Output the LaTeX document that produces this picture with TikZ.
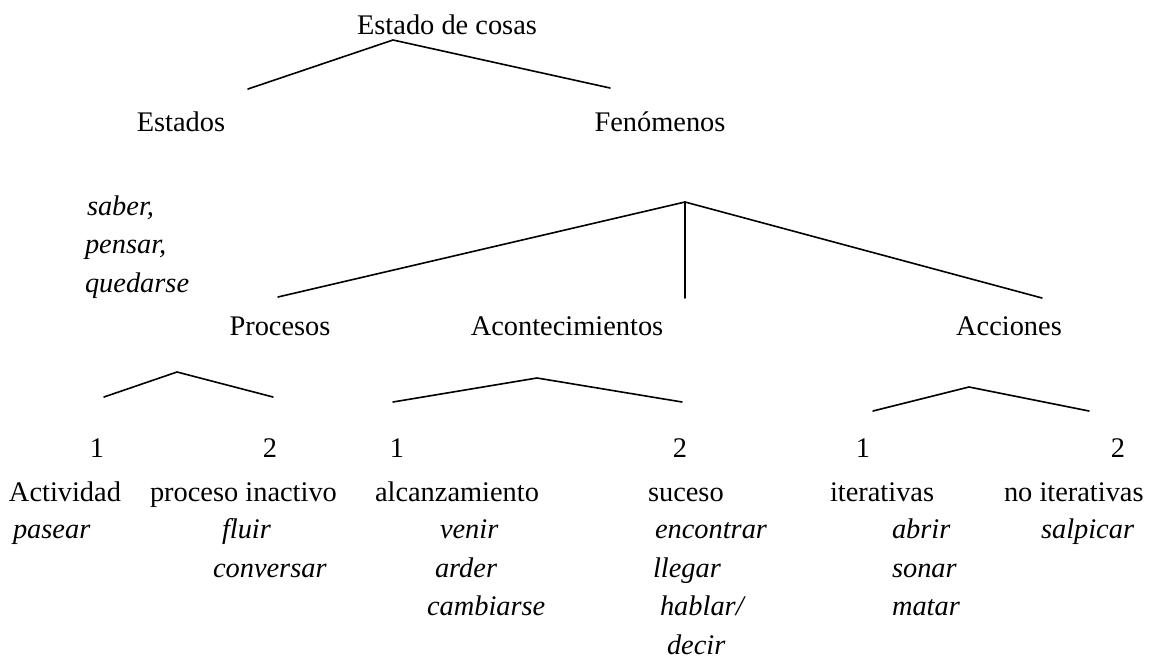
\documentclass[tikz,border=0pt]{standalone}
\usepackage{fontspec}
\setmainfont{Liberation Serif}
\begin{document}
\begin{tikzpicture}[x=1pt,y=-1pt,
  every node/.style={inner sep=0pt,outer sep=0pt,font=\fontsize{28.4}{34}\selectfont},
  lbl/.style={anchor=base},
  lblw/.style={anchor=base west},
  ex/.style={anchor=base west,font=\fontsize{28.4}{34}\selectfont\itshape},
  branch/.style={line width=1.6pt,line cap=round,line join=miter}]
\useasboundingbox (0,0) rectangle (1154,658);
% level 0/1
\node[lbl] (root) at (447,35) {Estado de cosas};
\node[lbl] (estados) at (181,132) {Estados};
\node[lbl] (fen) at (660,132) {Fenómenos};
\node[ex] (saber) at (87,215) {saber,};
\node[ex] (pensar) at (85,253) {pensar,};
\node[ex] (quedarse) at (85,292) {quedarse};
% level 2
\node[lbl] (proc) at (280,335) {Procesos};
\node[lbl] (acont) at (567,335) {Acontecimientos};
\node[lbl] (acc) at (1009,335) {Acciones};
% numbers
\node[lbl] (n1) at (97,457) {1};
\node[lbl] (n2) at (270,457) {2};
\node[lbl] (n3) at (397,457) {1};
\node[lbl] (n4) at (680,457) {2};
\node[lbl] (n5) at (863,457) {1};
\node[lbl] (n6) at (1118,457) {2};
% labels
\node[lblw] (act) at (9,501) {Actividad};
\node[lblw] (pin) at (150,501) {proceso inactivo};
\node[lblw] (alc) at (375,501) {alcanzamiento};
\node[lblw] (suc) at (648,501) {suceso};
\node[lblw] (ite) at (830,501) {iterativas};
\node[lblw] (nit) at (1004,501) {no iterativas};
% examples
\node[ex] (pasear) at (13,538) {pasear};
\node[ex] (fluir) at (222,538) {fluir};
\node[ex] (conversar) at (213,577) {conversar};
\node[ex] (venir) at (440,538) {venir};
\node[ex] (arder) at (435,577) {arder};
\node[ex] (cambiarse) at (427,615) {cambiarse};
\node[ex] (encontrar) at (655,538) {encontrar};
\node[ex] (llegar) at (653,577) {llegar};
\node[ex] (hablar) at (660,615) {hablar/};
\node[ex] (decir) at (667,654) {decir};
\node[ex] (abrir) at (892,538) {abrir};
\node[ex] (sonar) at (892,577) {sonar};
\node[ex] (matar) at (892,615) {matar};
\node[ex] (salpicar) at (1041,538) {salpicar};
% branch coordinates
\coordinate (a1) at (393,40);
\coordinate (a1l) at (248,89);
\coordinate (a1r) at (610,88);
\coordinate (a2) at (685,202);
\coordinate (a2l) at (278,297);
\coordinate (a2m) at (685,298);
\coordinate (a2r) at (1042,298);
\coordinate (a3) at (177,372);
\coordinate (a3l) at (104,397);
\coordinate (a3r) at (273,397);
\coordinate (a4) at (537,378);
\coordinate (a4l) at (393,402);
\coordinate (a4r) at (682,402);
\coordinate (a5) at (969,387);
\coordinate (a5l) at (873,411);
\coordinate (a5r) at (1089,411);
\draw[branch] (a1l) -- (a1) -- (a1r);
\draw[branch] (a2l) -- (a2) -- (a2r);
\draw[branch] (a2) -- (a2m);
\draw[branch] (a3l) -- (a3) -- (a3r);
\draw[branch] (a4l) -- (a4) -- (a4r);
\draw[branch] (a5l) -- (a5) -- (a5r);
\end{tikzpicture}
\end{document}
